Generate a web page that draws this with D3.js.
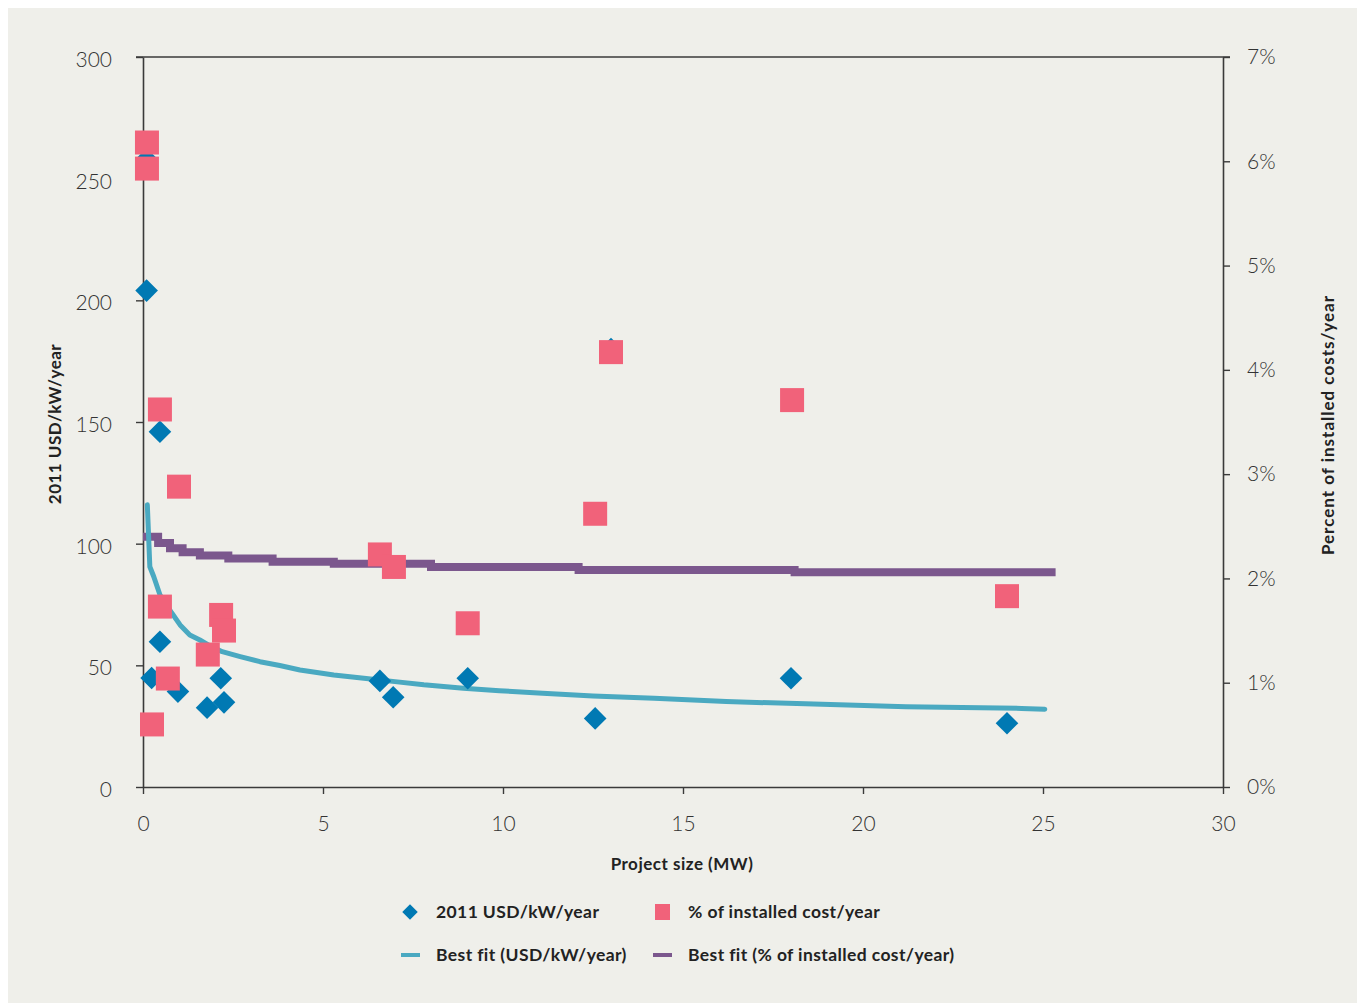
<!DOCTYPE html>
<html>
<head>
<meta charset="utf-8">
<script src="https://cdn.jsdelivr.net/npm/d3@7"></script>
<style>
  html, body { margin: 0; padding: 0; background: #ffffff; }
  svg { display: block; }
  text { font-family: "Lato", "Open Sans", sans-serif; }
</style>
</head>
<body>
<svg id="chart" width="1357" height="1003"></svg>
<script>
// ---- data ----
const usdX = [0.1, 0.1, 0.47, 0.24, 0.47, 0.97, 1.78, 2.16, 2.25, 6.58, 6.95, 9.02, 12.56, 13.0, 18.0, 24.0];
const usdY = [258, 204, 146, 44.8, 59.7, 39.2, 32.6, 44.7, 34.8, 43.6, 36.9, 44.7, 28.2, 180, 44.7, 26.2];

const pctX = [0.11, 0.11, 0.47, 1.0, 0.47, 0.69, 0.25, 2.17, 2.25, 1.8, 6.58, 6.97, 9.02, 12.56, 13.0, 18.03, 24.0];
const pctY = [6.18, 5.93, 3.62, 2.88, 1.73, 1.04, 0.60, 1.65, 1.50, 1.27, 2.23, 2.11, 1.57, 2.62, 4.17, 3.71, 1.83];

const fitUsdX = [0.12, 0.19, 0.3, 0.47, 0.8, 1.03, 1.3, 1.58, 1.86, 2.2, 2.7, 3.25, 3.8, 4.36, 5.3, 6.2, 7.0, 7.8, 8.9, 9.9, 11.1, 12.5, 14.2, 16.2, 18.4, 21.2, 24.4, 25.05];
const fitUsdY = [116, 90.5, 86.4, 79, 71.5, 66.6, 62.5, 60.4, 58, 55.6, 53.6, 51.5, 49.9, 48.1, 46.0, 44.6, 43.3, 42.0, 40.6, 39.6, 38.5, 37.4, 36.5, 35.1, 34.2, 33.0, 32.3, 32.0];

const fitPctX = [0.0, 0.42, 0.75, 1.1, 1.58, 2.37, 3.6, 5.3, 8.0, 12.1, 18.1, 25.35];
const fitPctY = [2.40, 2.34, 2.29, 2.25, 2.22, 2.19, 2.16, 2.14, 2.11, 2.08, 2.06, 2.06];

const xTicks = [0, 5, 10, 15, 20, 25, 30];
const yTicks = [0, 50, 100, 150, 200, 250, 300];
const pctTicks = [0, 1, 2, 3, 4, 5, 6, 7];

const xTitle = "Project size (MW)";
const yTitle = "2011 USD/kW/year";
const y2Title = "Percent of installed costs/year";
const legendLabels = ["2011 USD/kW/year", "% of installed cost/year", "Best fit (USD/kW/year)", "Best fit (% of installed cost/year)"];

// ---- colours ----
const cBg = "#efefea", cAxis = "#3a3a3a", cText = "#333333";
const cDiamond = "#0079b3", cSquare = "#f1627a", cTeal = "#4aa9c1", cPurple = "#7b578d";

const svg = d3.select("#chart");
svg.append("rect").attr("x", 8).attr("y", 8).attr("width", 1349).attr("height", 995).attr("fill", cBg);

const L = 143, R = 1223, T = 57, B = 787;
const x = d3.scaleLinear().domain([0, 30]).range([L, R]);
const y = d3.scaleLinear().domain([0, 300]).range([B, T]);
const y2 = d3.scaleLinear().domain([0, 7]).range([B, T]);

// top border
svg.append("line").attr("x1", L - 7).attr("x2", R + 7).attr("y1", T).attr("y2", T)
  .attr("stroke", cAxis).attr("stroke-width", 1.4);

function styleAxis(g) {
  g.selectAll(".domain").attr("stroke", cAxis).attr("stroke-width", 1.6);
  g.selectAll(".tick line").attr("stroke", cAxis).attr("stroke-width", 1.4);
  g.selectAll(".tick text").attr("fill", cText).style("font-size", "21px")
    .style("font-family", "Lato, 'Open Sans', sans-serif").style("font-weight", 300);
}

const gx = svg.append("g").attr("transform", `translate(0,${B})`)
  .call(d3.axisBottom(x).tickValues(xTicks).tickSize(7).tickSizeOuter(0).tickPadding(22));
styleAxis(gx);

const gy = svg.append("g").attr("transform", `translate(${L},0)`)
  .call(d3.axisLeft(y).tickValues(yTicks).tickSize(7).tickSizeOuter(0).tickPadding(24));
styleAxis(gy);
gy.selectAll(".tick text").attr("dy", "0.45em");

const gy2 = svg.append("g").attr("transform", `translate(${R},0)`)
  .call(d3.axisRight(y2).tickValues(pctTicks).tickSize(7).tickSizeOuter(0).tickPadding(17).tickFormat(d => d + "%"));
styleAxis(gy2);

// best-fit lines
const fitPct = fitPctX.map((v, i) => [v, fitPctY[i]]);
svg.append("path").datum(fitPct)
  .attr("d", d3.line().x(d => x(d[0])).y(d => y2(d[1])).curve(d3.curveStepAfter))
  .attr("fill", "none").attr("stroke", cPurple).attr("stroke-width", 8);

const fitUsd = fitUsdX.map((v, i) => [v, fitUsdY[i]]);
svg.append("path").datum(fitUsd)
  .attr("d", d3.line().x(d => x(d[0])).y(d => y(d[1])))
  .attr("fill", "none").attr("stroke", cTeal).attr("stroke-width", 5)
  .attr("stroke-linecap", "round").attr("stroke-linejoin", "round");

// diamonds
const diamond = d3.symbol().type(d3.symbolSquare).size(16 * 16);
svg.append("g").selectAll("path").data(usdX.map((v, i) => [v, usdY[i]])).join("path")
  .attr("d", diamond)
  .attr("transform", d => `translate(${x(d[0])},${y(d[1])}) rotate(45)`)
  .attr("fill", cDiamond);

// squares
const sq = 24;
svg.append("g").selectAll("rect").data(pctX.map((v, i) => [v, pctY[i]])).join("rect")
  .attr("x", d => x(d[0]) - sq / 2).attr("y", d => y2(d[1]) - sq / 2)
  .attr("width", sq).attr("height", sq).attr("fill", cSquare);

// axis titles
const titleStyle = s => s.attr("fill", "#222").style("font-size", "17px").style("font-weight", "bold")
  .style("letter-spacing", "0.5px");
svg.append("text").attr("x", (L + R) / 2 - 1).attr("y", 870).attr("text-anchor", "middle")
  .call(titleStyle).text(xTitle);
svg.append("text").attr("transform", `translate(61,${(T + B) / 2 + 2}) rotate(-90)`).attr("text-anchor", "middle")
  .call(titleStyle).text(yTitle);
svg.append("text").attr("transform", `translate(1334,${(T + B) / 2 + 3}) rotate(-90)`).attr("text-anchor", "middle")
  .call(titleStyle).style("letter-spacing", "1px").text(y2Title);

// legend
const lg = svg.append("g");
const legTextStyle = s => s.attr("fill", "#222").style("font-size", "17.5px").style("font-weight", "bold")
  .style("letter-spacing", "0.4px");
lg.append("path").attr("d", d3.symbol().type(d3.symbolSquare).size(11 * 11))
  .attr("transform", "translate(410,912) rotate(45)").attr("fill", cDiamond);
lg.append("text").attr("x", 436).attr("y", 918).call(legTextStyle).text(legendLabels[0]);
lg.append("rect").attr("x", 655).attr("y", 904).attr("width", 15).attr("height", 16).attr("fill", cSquare);
lg.append("text").attr("x", 688).attr("y", 918).call(legTextStyle).text(legendLabels[1]);
lg.append("line").attr("x1", 401).attr("x2", 420).attr("y1", 955).attr("y2", 955).attr("stroke", cTeal).attr("stroke-width", 4);
lg.append("text").attr("x", 436).attr("y", 961).call(legTextStyle).text(legendLabels[2]);
lg.append("line").attr("x1", 653).attr("x2", 672).attr("y1", 955).attr("y2", 955).attr("stroke", cPurple).attr("stroke-width", 4);
lg.append("text").attr("x", 688).attr("y", 961).call(legTextStyle).text(legendLabels[3]);
</script>
</body>
</html>
